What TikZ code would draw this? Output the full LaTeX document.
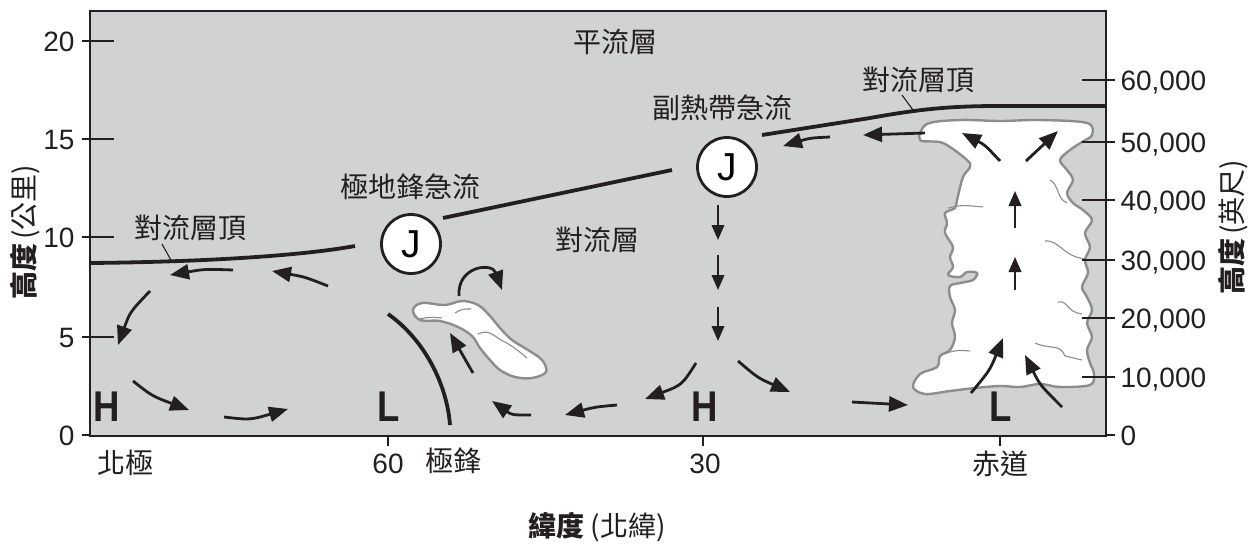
\documentclass[tikz,border=0pt]{standalone}
\usepackage{fontspec}
\setmainfont{Liberation Sans}
\newfontfamily\cjk{Noto Sans CJK TC}
\usetikzlibrary{arrows.meta}

\definecolor{sky}{HTML}{D1D2D4}
\definecolor{cloudline}{HTML}{8C8D8F}
\definecolor{ink}{HTML}{231F20}

\tikzset{
  flow/.style={ink, line width=2.8pt, -{Triangle[length=19pt,width=15pt]}},
  thinflow/.style={ink, line width=2.2pt, -{Triangle[length=15pt,width=12.5pt]}},
  tropo/.style={ink, line width=3.8pt},
  tick/.style={ink, line width=1.2pt},
  cloud/.style={fill=white, draw=cloudline, line width=2.4pt, line join=round},
  wisp/.style={draw=cloudline, line width=1.1pt},
  jet/.style={circle, draw=ink, line width=2.8pt, fill=white, minimum size=59pt, inner sep=0pt, font=\fontsize{39}{39}\selectfont},
  num/.style={font=\fontsize{28}{28}\selectfont, text=ink},
  zh/.style={font=\cjk\fontsize{28}{32}\selectfont, text=ink},
  press/.style={font=\bfseries\fontsize{43}{43}\selectfont, text=ink},
}

\begin{document}
\begin{tikzpicture}[x=1pt, y=-1pt]
\useasboundingbox (0,0) rectangle (1258,546);

% atmosphere background
\fill[sky] (90,11) rectangle (1106,436);

% cumulonimbus tower over the equator
\draw[cloud] plot[smooth cycle, tension=0.55] coordinates {
  (927,124) (960,120) (1000,121) (1040,120) (1087,123) (1092,135) (1082,142)
  (1070,150) (1060,160) (1067,170) (1073,180) (1067,193) (1073,203) (1083,210)
  (1092,220) (1085,233) (1090,247) (1085,260) (1088,273) (1082,287) (1087,297)
  (1092,310) (1087,323) (1092,337) (1087,350) (1090,363) (1094,374) (1090,385)
  (1060,387) (1040,384) (1020,387) (1000,386) (975,388) (950,391) (925,394)
  (913,387) (920,374) (937,367) (940,356) (950,350) (955,337) (952,323)
  (955,310) (950,297) (950,286) (960,283) (973,280) (977,273) (967,272)
  (960,277) (948,275) (953,267) (950,257) (953,247) (945,233) (947,223)
  (945,213) (955,208) (957,200) (963,177) (970,167) (967,160) (943,143)
  (920,140)};
\draw[wisp] (948,208) .. controls (962,205) .. (983,207);
\draw[wisp] (1050,180) .. controls (1060,186) and (1056,198) .. (1067,203);
\draw[wisp] (1045,241) .. controls (1060,240) and (1062,256) .. (1085,259);
\draw[wisp] (1058,302) .. controls (1068,300) and (1066,312) .. (1082,314);
\draw[wisp] (1035,343) .. controls (1050,350) and (1060,343) .. (1065,356) -- (1082,360);
\draw[wisp] (946,353) .. controls (958,350) .. (970,351);

% cloud along the polar front
\draw[cloud] plot[smooth cycle, tension=0.6] coordinates {
  (413,310) (422,303) (445,305) (462,301) (478,305) (490,316) (500,328)
  (512,340) (528,350) (542,360) (546,372) (532,378) (515,377) (500,370)
  (490,360) (480,348) (472,336) (458,327) (440,321) (420,320)};
\draw[wisp] (419,319) .. controls (430,317) .. (442,318);
\draw[wisp] (455,313) .. controls (462,309) .. (471,309);
\draw[wisp] (478,334) .. controls (490,328) and (495,338) .. (505,342) .. controls (515,348) .. (527,358);

% tropopause
\draw[tropo] (90,263) .. controls (200,262) and (300,256) .. (355,246);
\draw[tropo] (443,218) -- (672,170);
\draw[tropo] (762,135) -- (870,118) .. controls (920,109) and (950,106) .. (1000,106) -- (1106,106);

% polar front
\draw[tropo] (388,314) .. controls (425,340) and (447,385) .. (450,425);

% polar cell circulation
\draw[flow] (233,270) .. controls (205,269) .. (170,275);
\draw[flow] (328,286) .. controls (305,277) .. (272,271);
\draw[flow] (150,291) .. controls (130,312) .. (118,345);
\draw[flow] (133,381) .. controls (152,396) .. (189,410);
\draw[flow] (224,417) .. controls (250,420) .. (288,409);

% Ferrel cell circulation
\draw[flow] (473,373) -- (450,333);
\draw[flow] (459,296) .. controls (457,266) and (492,262) .. (502,290);
\draw[flow] (531,415) .. controls (512,415) .. (492,401);
\draw[flow] (617,405) .. controls (595,407) .. (565,415);
\draw[flow] (696,363) .. controls (682,385) .. (645,399);

% Hadley cell circulation
\draw[thinflow] (718,205) -- (718,240);
\draw[thinflow] (718,255) -- (718,290);
\draw[thinflow] (718,307) -- (718,341);
\draw[flow] (738,361) .. controls (758,378) .. (790,392);
\draw[flow] (852,402) -- (908,405);
\draw[flow] (971,393) .. controls (990,370) .. (1003,338);
\draw[flow] (1062,407) .. controls (1040,385) .. (1025,355);
\draw[thinflow] (1015,290) -- (1015,257);
\draw[thinflow] (1015,228) -- (1015,191);
\draw[flow] (1000,161) .. controls (985,145) .. (962,133);
\draw[flow] (1026,161) -- (1058,131);
\draw[flow] (925,133) -- (863,135);
\draw[flow] (830,137) .. controls (810,138) .. (783,146);

% jet streams
\node[jet] (polarjet) at (411,244) {J};
\node[jet] (subjet) at (727,167) {J};

% axes ticks, left (km)
\foreach \yy/\lab in {41/20, 139/15, 237/10, 337/5} {
  \draw[tick] (82,\yy) -- (114,\yy);
  \node[num, anchor=base east] at (78,\yy+10) {\lab};
}
\draw[tick] (82,435) -- (90,435);
\node[num, anchor=base east] (kmzero) at (78,445) {0};

% axes ticks, right (feet)
\foreach \yy/\lab in {80/{60,000}, 142/{50,000}, 200/{40,000}, 260/{30,000}, 318/{20,000}, 377/{10,000}} {
  \draw[tick] (1082,\yy) -- (1115,\yy);
  \node[num, anchor=base west] at (1117,\yy+10) {\lab};
}
\draw[tick] (1106,435) -- (1115,435);
\node[num, anchor=base west] (ftzero) at (1117,445) {0};

% latitude ticks
\draw[tick] (388,436) -- (388,446);
\draw[tick] (703,436) -- (703,446);
\draw[tick] (1000,436) -- (1000,446);

% frame
\draw[ink, line width=2.6pt] (90,11) rectangle (1106,436);

% latitude labels
\node[zh] (pole) at (125,463) {北極};
\node[num, anchor=base] (lat60) at (388,473) {60};
\node[zh] (front) at (453,461) {極鋒};
\node[num, anchor=base] (lat30) at (705,473) {30};
\node[zh] (equator) at (1000,464) {赤道};

% pressure centres
\node[press] (h1) at (107,407) {\scalebox{0.85}[1]{H}};
\node[press] (l1) at (389,407) {\scalebox{0.85}[1]{L}};
\node[press] (h2) at (705,407) {\scalebox{0.85}[1]{H}};
\node[press] (l2) at (1001,407) {\scalebox{0.85}[1]{L}};

% layer and jet labels
\node[zh] (strato) at (615,42) {平流層};
\node[zh] (tropos) at (597,240) {對流層};
\node[zh] (pjlab) at (410,187) {極地鋒急流};
\node[zh] (sjlab) at (722,108) {副熱帶急流};
\node[zh] (tpleft) at (190,228) {對流層頂};
\node[zh] (tpright) at (918,80) {對流層頂};
\draw[ink, line width=1.1pt] (162,244) -- (172,262);
\draw[ink, line width=1.1pt] (902,95) -- (913,110);

% axis titles
\node[zh, rotate=90] (ykm) at (25,232) {{\bfseries 高度}\kern4pt(公里)};
\node[zh, rotate=90] (yft) at (1233,227) {{\bfseries 高度}\kern4pt(英尺)};
\node[zh] (xlat) at (597,527) {{\bfseries 緯度}\kern6pt(北緯)};

\end{tikzpicture}
\end{document}
